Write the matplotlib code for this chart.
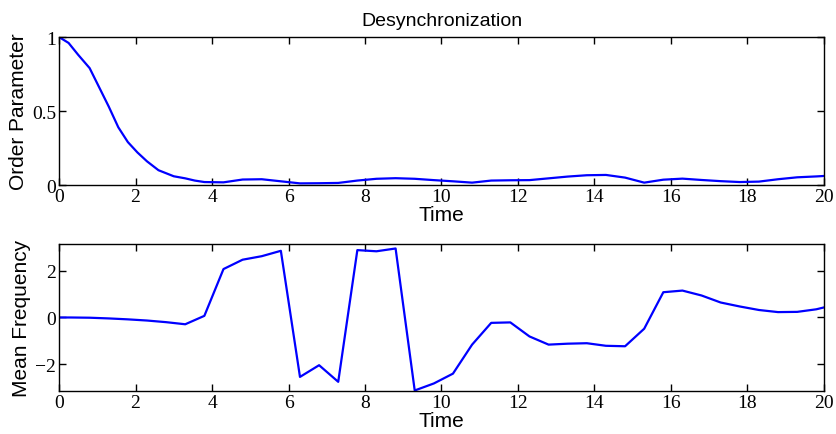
import numpy as np
import matplotlib.pyplot as plt

# sample times (s)
time = [0, 0.3, 0.8, 1.3, 1.8, 2.3, 2.8, 3.3, 3.8, 4.3, 4.8, 5.3, 5.8, 6.3, 6.8,
        7.3, 7.8, 8.3, 8.8, 9.3, 9.8, 10.3, 10.8, 11.3, 11.8, 12.3, 12.8, 13.3,
        13.8, 14.3, 14.8, 15.3, 15.8, 16.3, 16.8, 17.3, 17.8, 18.3, 18.8, 19.3,
        19.8, 20]

# order parameter is sampled finer during the initial decay
op_time = [0, 0.25, 0.5, 0.8, 1.05, 1.3, 1.55, 1.8, 2.05, 2.3, 2.6, 3.0, 3.3,
           3.55, 3.8, 4.3, 4.8, 5.3, 5.8, 6.3, 6.8, 7.3, 7.8, 8.3, 8.8, 9.3,
           9.8, 10.3, 10.8, 11.3, 11.8, 12.3, 12.8, 13.3, 13.8, 14.3, 14.8,
           15.3, 15.8, 16.3, 16.8, 17.3, 17.8, 18.3, 18.8, 19.3, 19.8, 20]

order_param = [1.0, 0.96, 0.88, 0.79, 0.66, 0.53, 0.39, 0.29, 0.22, 0.16,
               0.10, 0.059, 0.045, 0.03, 0.02, 0.018, 0.037, 0.039, 0.025,
               0.011, 0.012, 0.014, 0.03, 0.042, 0.046, 0.042, 0.033, 0.025,
               0.016, 0.03, 0.032, 0.033, 0.045, 0.057, 0.066, 0.068, 0.05,
               0.016, 0.036, 0.043, 0.034, 0.026, 0.02, 0.023, 0.039, 0.052,
               0.058, 0.061]

mean_freq = [0.0, 0.0, -0.01, -0.04, -0.08, -0.13, -0.2, -0.29, 0.07, 2.07,
             2.47, 2.62, 2.85, -2.54, -2.04, -2.75, 2.88, 2.83, 2.95, -3.12,
             -2.82, -2.40, -1.16, -0.23, -0.21, -0.81, -1.16, -1.12, -1.10,
             -1.21, -1.23, -0.48, 1.08, 1.15, 0.94, 0.64, 0.47, 0.32, 0.23,
             0.24, 0.35, 0.43]

x_ticks = [0, 2, 4, 6, 8, 10, 12, 14, 16, 18, 20]
op_ticks = [0, 0.5, 1]
op_labels = ['0', '0.5', '1']
mf_ticks = [-2, 0, 2]

tick_font = {'family': 'Liberation Serif', 'size': 14}
label_font = {'family': 'Liberation Sans', 'size': 15}

fig = plt.figure(figsize=(8.36, 4.35), dpi=100)
ax1 = fig.add_axes([0.0706, 0.5724, 0.915, 0.3402])
ax2 = fig.add_axes([0.0706, 0.0989, 0.915, 0.3379])


def style_axes(ax):
    ax.tick_params(direction='in', top=True, right=True, length=5, width=1,
                   pad=2)
    for s in ax.spines.values():
        s.set_linewidth(1.0)
    for lbl in ax.get_xticklabels() + ax.get_yticklabels():
        lbl.set_fontfamily(tick_font['family'])
        lbl.set_fontsize(tick_font['size'])


ax1.plot(op_time, order_param, color='#0000ff', lw=1.6)
ax1.set_xlim(0, 20)
ax1.set_ylim(0, 1)
ax1.set_xticks(x_ticks)
ax1.set_yticks(op_ticks, op_labels)
ax1.set_xlabel('Time', labelpad=0, **label_font)
ax1.set_ylabel('Order Parameter', labelpad=3, **label_font)
ax1.set_title('Desynchronization', family='Liberation Sans', size=14, pad=9)
style_axes(ax1)

ax2.plot(time, mean_freq, color='#0000ff', lw=1.6)
ax2.set_xlim(0, 20)
ax2.set_ylim(-np.pi, np.pi)
ax2.set_xticks(x_ticks)
ax2.set_yticks(mf_ticks)
ax2.set_xlabel('Time', labelpad=0, **label_font)
ax2.set_ylabel('Mean Frequency', labelpad=3, **label_font)
style_axes(ax2)

fig.savefig('out.png', dpi=100)
